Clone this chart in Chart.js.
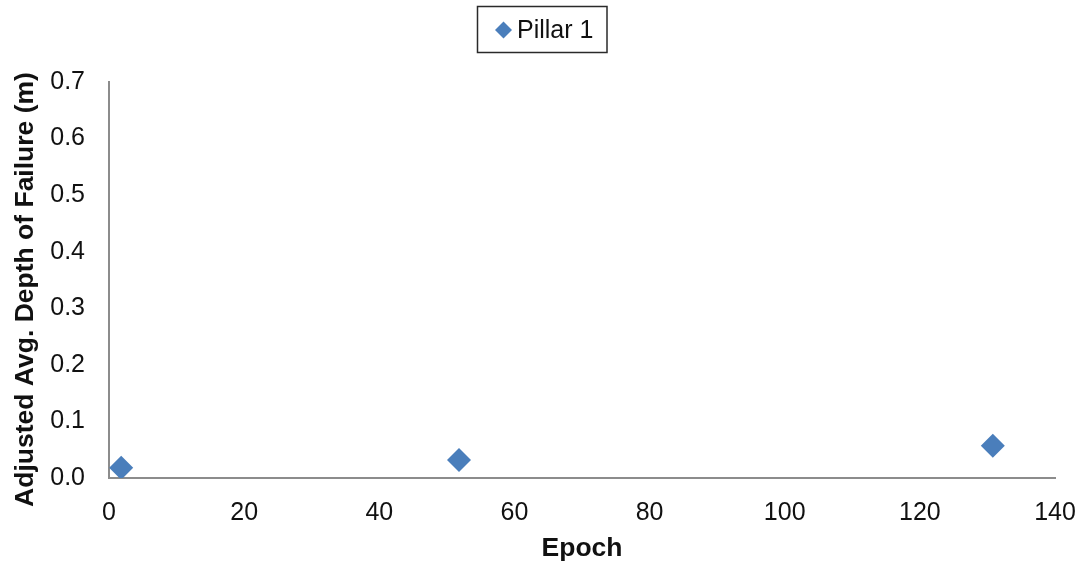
<!DOCTYPE html>
<html>
<head>
<meta charset="utf-8">
<script src="https://cdn.jsdelivr.net/npm/chart.js@4.4.1/dist/chart.umd.min.js"></script>
<style>
  html, body { margin: 0; padding: 0; background: #fff; }
  #wrap { width: 1088px; height: 569px; position: relative; }
</style>
</head>
<body>
<div id="wrap"><canvas id="c" width="1088" height="569"></canvas></div>
<script>
// Pillar 1 measurements: epoch vs adjusted average depth of failure (m)
const epochs = [1.8, 51.8, 130.8];
const depths = [0.018, 0.032, 0.057];
const seriesName = 'Pillar 1';
const yTitle = 'Adjusted Avg. Depth of Failure (m)';
const xTitle = 'Epoch';
const yTicks = [0, 0.1, 0.2, 0.3, 0.4, 0.5, 0.6, 0.7];

const points = epochs.map((x, i) => ({ x: x, y: depths[i] }));

const FAMILY = 'Liberation Sans, Arial, sans-serif';
const axisFont = { family: FAMILY, size: 25 };
const titleFont = { family: FAMILY, size: 26.5, weight: 'bold' };

// Boxed legend above the plot and the vertical axis title
const decorations = {
  id: 'decorations',
  afterDraw(chart) {
    const ds = chart.data.datasets[0];
    const ctx = chart.ctx;
    ctx.save();
    // legend frame
    ctx.strokeStyle = '#2a2a2a';
    ctx.lineWidth = 1.5;
    ctx.strokeRect(477.5, 6.5, 129.5, 46);
    // legend marker
    ctx.fillStyle = ds.backgroundColor;
    const cx = 503.5, cy = 30, r = 8.5;
    ctx.beginPath();
    ctx.moveTo(cx - r, cy);
    ctx.lineTo(cx, cy - r);
    ctx.lineTo(cx + r, cy);
    ctx.lineTo(cx, cy + r);
    ctx.closePath();
    ctx.fill();
    // legend label
    ctx.fillStyle = '#111';
    ctx.font = '25px ' + FAMILY;
    ctx.textBaseline = 'middle';
    ctx.textAlign = 'left';
    ctx.fillText(ds.label, 517, 31);
    // y-axis title, rotated
    ctx.translate(33, 289.5);
    ctx.rotate(-Math.PI / 2);
    ctx.font = 'bold 26.5px ' + FAMILY;
    ctx.textAlign = 'center';
    ctx.textBaseline = 'alphabetic';
    ctx.fillText(yTitle, 0, 0);
    ctx.restore();
  }
};

new Chart(document.getElementById('c'), {
  type: 'scatter',
  data: {
    datasets: [{
      label: seriesName,
      data: points,
      pointStyle: 'rectRot',
      pointRadius: 12,
      pointHoverRadius: 12,
      backgroundColor: '#4a7ebb',
      borderColor: '#4a7ebb',
      borderWidth: 0
    }]
  },
  options: {
    responsive: false,
    animation: false,
    layout: { padding: { left: 0, right: 33, top: 82, bottom: 0 } },
    plugins: {
      tooltip: { enabled: false },
      legend: { display: false }
    },
    scales: {
      x: {
        type: 'linear',
        min: 0,
        max: 140,
        grid: { display: false, drawTicks: false },
        border: { display: true, color: '#8c8c8c', width: 2 },
        ticks: { stepSize: 20, color: '#111', font: axisFont, padding: 20 },
        title: { display: true, text: xTitle, color: '#111', font: titleFont, padding: { top: 4, bottom: 4 } },
        afterFit(scale) { scale.height = 569 - 478; scale.paddingRight = 0; scale.paddingLeft = 0; }
      },
      y: {
        type: 'linear',
        min: 0,
        max: 0.7,
        grid: { display: false, drawTicks: false },
        border: { display: true, color: '#8c8c8c', width: 2 },
        afterBuildTicks(scale) { scale.ticks = yTicks.map(v => ({ value: v })); },
        ticks: { color: '#111', font: axisFont, padding: 24, callback: v => Number(v).toFixed(1) },
        afterFit(scale) { scale.width = 109; }
      }
    }
  },
  plugins: [decorations]
});
</script>
</body>
</html>
